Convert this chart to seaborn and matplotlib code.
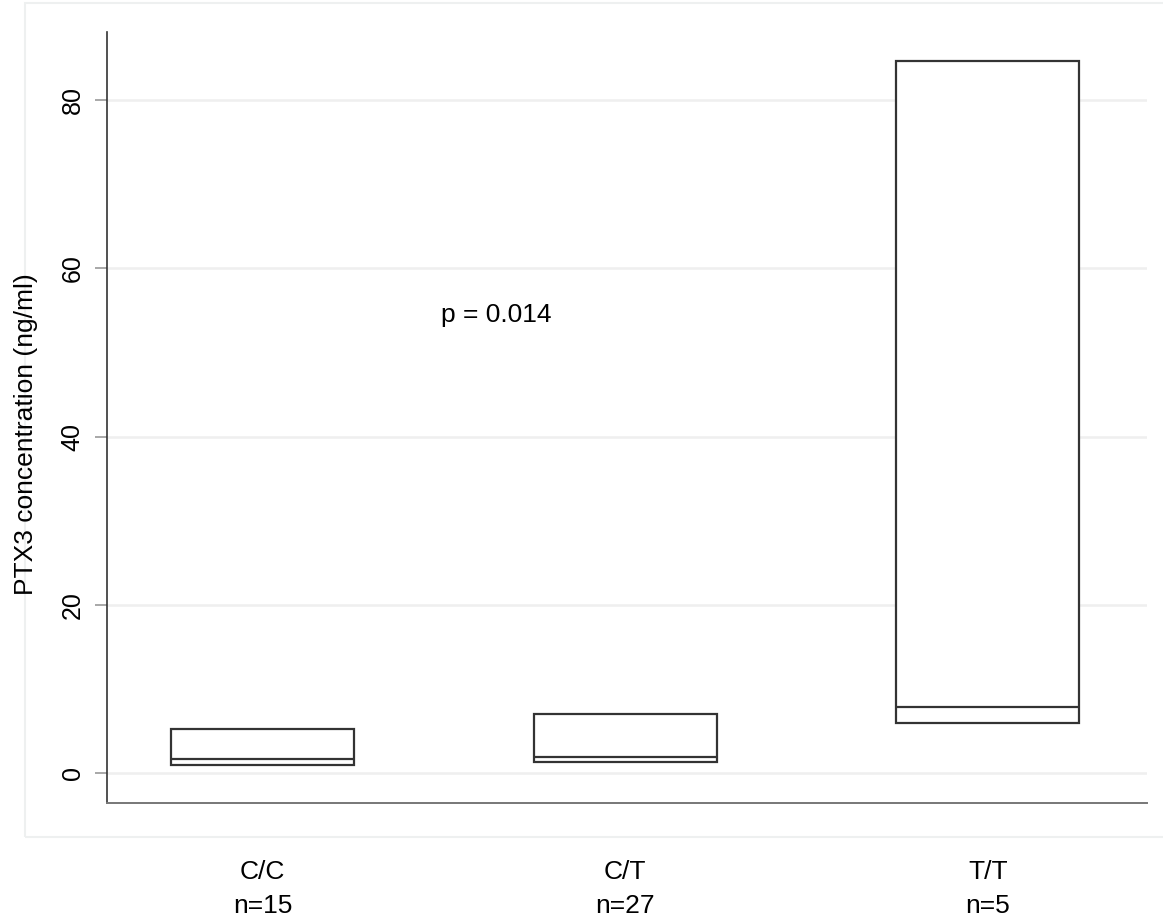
import matplotlib
matplotlib.use("Agg")
import matplotlib.pyplot as plt
import seaborn as sns
import pandas as pd
from matplotlib.patches import Rectangle

# values (box = quartiles, middle line = median)
genotypes = ["C/C", "C/T", "T/T"]
n_counts = [15, 27, 5]
q1 = [0.95, 1.3, 6.0]
median = [1.63, 1.87, 7.88]
q3 = [5.2, 6.98, 84.7]
y_ticks = [0, 20, 40, 60, 80]
p_text = "p = 0.014"

# five points per group give exactly these quartiles
rows = []
for g, a, m, b in zip(genotypes, q1, median, q3):
    for v in [a, a, m, b, b]:
        rows.append({"genotype": g, "value": v})
df = pd.DataFrame(rows)

sns.set_style("white")
plt.rcParams["font.family"] = ["Liberation Sans", "DejaVu Sans"]
plt.rcParams["text.color"] = "black"
plt.rcParams["axes.labelcolor"] = "black"
plt.rcParams["xtick.color"] = "black"
plt.rcParams["ytick.color"] = "black"

W, H = 1163, 924
fig = plt.figure(figsize=(W / 100, H / 100), dpi=100)
ax = fig.add_axes([107 / W, (H - 803) / H, 1040 / W, 771 / H])

# faint outer plot region frame, drawn behind everything
fig.patches.append(Rectangle((25 / W, (H - 837) / H), 1.0, 834 / H,
                             transform=fig.transFigure, fill=False,
                             edgecolor="#eef0f0", linewidth=1.5, zorder=-1))

sns.boxplot(
    data=df, x="genotype", y="value", order=genotypes,
    whis=0, showcaps=False, showfliers=False, width=0.505,
    color="white", linecolor="#333333", linewidth=1.6,
    boxprops={"facecolor": "white"}, ax=ax,
)

ax.set_xlim(-0.429, 2.439)
ax.set_ylim(-3.57, 88.1)

ax.set_yticks(y_ticks)
ax.set_yticklabels([str(t) for t in y_ticks], rotation=90, va="center")
ax.set_xticks(range(len(genotypes)))
ax.set_xticklabels([f"{g}\nn={n}" for g, n in zip(genotypes, n_counts)],
                   linespacing=1.55)

ax.tick_params(axis="y", length=9, width=1.2, color="#999999", pad=7,
               labelsize=18, labelcolor="black", left=True)
ax.tick_params(axis="x", length=0, pad=41, labelsize=19, labelcolor="black")

ax.yaxis.grid(True, color="#efefef", linewidth=1.8)
ax.set_axisbelow(True)

for side in ["top", "right"]:
    ax.spines[side].set_visible(False)
ax.spines["left"].set_color("#333333")
ax.spines["left"].set_linewidth(1.2)
ax.spines["bottom"].set_color("#777777")
ax.spines["bottom"].set_linewidth(1.4)

ax.set_xlabel("")
ax.set_ylabel("PTX3 concentration (ng/ml)", fontsize=19, color="black")
ax.yaxis.set_label_coords(-0.066, 0.479)

ax.text(0.644, 54.5, p_text, ha="center", va="center", fontsize=19,
        color="black")

fig.savefig("out.png", dpi=100)
